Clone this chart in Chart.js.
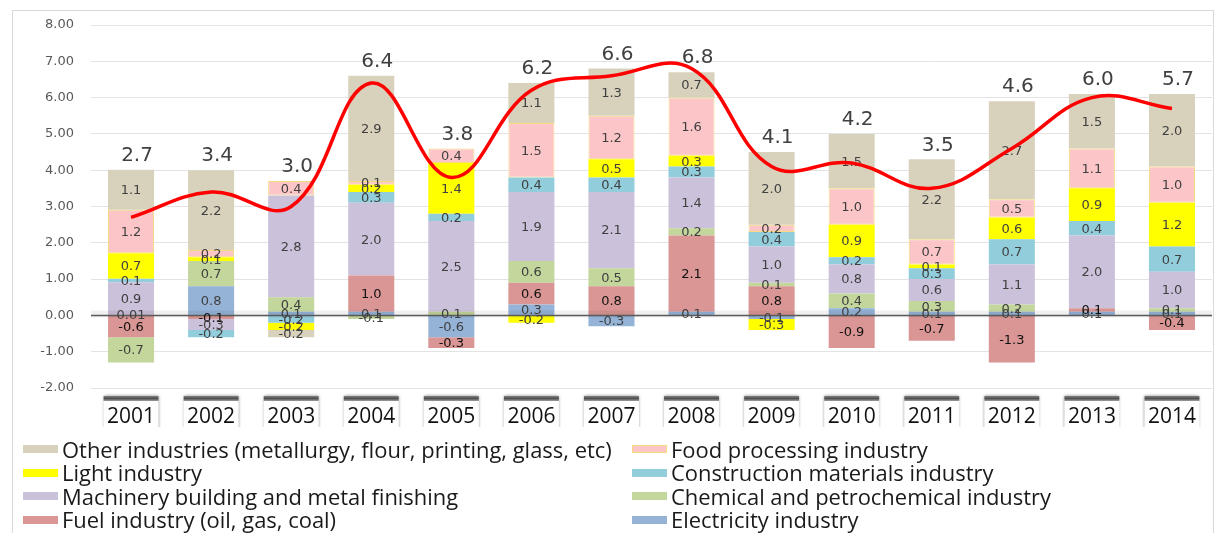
<!DOCTYPE html>
<html><head><meta charset="utf-8">
<script src="https://cdn.jsdelivr.net/npm/chart.js@4.4.1/dist/chart.umd.min.js"></script>
<style>
html,body{margin:0;padding:0;background:#fff;}
#wrap{position:relative;width:1215px;height:533px;overflow:hidden;background:#fff;}
#frame{position:absolute;left:12px;top:10px;width:1202px;height:540px;border:1px solid #d9d9d9;box-sizing:border-box;}
#cv{position:absolute;left:0;top:0;}
.lg{position:absolute;height:24px;display:flex;align-items:center;font-family:"Open Sans",sans-serif;color:#1a1a1a;white-space:nowrap;}
.sw{width:35px;height:8px;margin-right:4px;box-sizing:border-box;flex:none;}
</style></head>
<body><div id="wrap"><div id="frame"></div><canvas id="cv" width="1215" height="533"></canvas><div id="legend"></div></div>
<script>
// ---- data ----
const years = ['2001','2002','2003','2004','2005','2006','2007','2008','2009','2010','2011','2012','2013','2014'];
const totalGrowth = [2.7,3.4,3.0,6.4,3.8,6.2,6.6,6.8,4.1,4.2,3.5,4.6,6.0,5.7];
const electricity  = [0.01,0.8,0.1,0.1,-0.6,0.3,-0.3,0.1,-0.1,0.2,0.1,0.1,0.1,0.1];
const fuel         = [-0.6,-0.1,0,1.0,-0.3,0.6,0.8,2.1,0.8,-0.9,-0.7,-1.3,0.1,-0.4];
const chemical     = [-0.7,0.7,0.4,-0.1,0.1,0.6,0.5,0.2,0.1,0.4,0.3,0.2,0,0.1];
const machinery    = [0.9,-0.3,2.8,2.0,2.5,1.9,2.1,1.4,1.0,0.8,0.6,1.1,2.0,1.0];
const construction = [0.1,-0.2,-0.2,0.3,0.2,0.4,0.4,0.3,0.4,0.2,0.3,0.7,0.4,0.7];
const light        = [0.7,0.1,-0.2,0.2,1.4,-0.2,0.5,0.3,-0.3,0.9,0.1,0.6,0.9,1.2];
const food         = [1.2,0.2,0.4,0.1,0.4,1.5,1.2,1.6,0.2,1.0,0.7,0.5,1.1,1.0];
const other        = [1.1,2.2,-0.2,2.9,0,1.1,1.3,0.7,2.0,1.5,2.2,2.7,1.5,2.0];
const yTicks = [-2,-1,0,1,2,3,4,5,6,7,8];

// series (stacking order bottom -> top)
const series = [
  {label:'Electricity industry', data:electricity, color:'#95b3d7', border:'#95b3d7', text:'#404040'},
  {label:'Fuel industry (oil, gas, coal)', data:fuel, color:'#d99694', border:'#d99694', text:'#111111'},
  {label:'Chemical and petrochemical industry', data:chemical, color:'#c3d69b', border:'#c3d69b', text:'#404040'},
  {label:'Machinery building and metal finishing', data:machinery, color:'#ccc1da', border:'#ccc1da', text:'#404040'},
  {label:'Construction materials industry', data:construction, color:'#92cddc', border:'#92cddc', text:'#404040'},
  {label:'Light industry', data:light, color:'#ffff00', border:'#ffff00', text:'#404040'},
  {label:'Food processing industry', data:food, color:'#fcc6c8', border:'#f7dc7e', text:'#404040'},
  {label:'Other industries (metallurgy, flour, printing, glass, etc)', data:other, color:'#d8d2bd', border:'#d8d2bd', text:'#404040'}
];

function fmt(v){ return Math.abs(v) < 0.05 ? v.toFixed(2) : v.toFixed(1); }

const datasets = series.map(s => ({
  type:'bar', label:s.label, data:s.data, backgroundColor:s.color,
  borderColor:s.border, borderWidth: s.border===s.color?0:1, borderSkipped:false,
  stack:'ind', barPercentage:0.575, categoryPercentage:1.0, labelColor:s.text, order:1
}));
datasets.push({type:'line', label:'Total', data:totalGrowth, borderColor:'#ff0000', borderWidth:3.5,
  pointRadius:0, tension:0.4, fill:false, stack:'line', order:0});

const yearBoxes = {
  id:'yearBoxes',
  beforeDraw(chart){
    const {ctx, scales:{x}} = chart;
    ctx.save();
    ctx.beginPath(); ctx.rect(0,390,chart.width,37); ctx.clip();
    years.forEach((_,i)=>{
      const cx = x.getPixelForValue(i);
      const l = cx-27.5, w=55, t=396, h=36;
      ctx.shadowColor='rgba(0,0,0,0.5)'; ctx.shadowBlur=3;
      ctx.fillStyle='#fff'; ctx.fillRect(l,t,w,h);
      ctx.shadowBlur=0; ctx.shadowColor='rgba(0,0,0,0)';
      const g = ctx.createLinearGradient(0,t,0,t+5);
      g.addColorStop(0,'#808080'); g.addColorStop(0.5,'#505050'); g.addColorStop(1,'#a0a0a0');
      ctx.fillStyle=g; ctx.fillRect(l,t,w,5);
    });
    ctx.restore();
  }
};

const barLabels = {
  id:'barLabels',
  beforeDatasetDraw(chart,args){
    if(args.meta.type!=='line') return;
    const {ctx, chartArea, scales:{y}} = chart;
    const y0 = Math.round(y.getPixelForValue(0))+0.5;
    ctx.save();
    ctx.fillStyle='rgba(0,0,0,0.06)'; ctx.fillRect(chartArea.left,y0-5,chartArea.width,7);
    ctx.strokeStyle='#5a5a5a'; ctx.lineWidth=1.3;
    ctx.beginPath(); ctx.moveTo(chartArea.left,y0); ctx.lineTo(chartArea.right,y0); ctx.stroke();
    ctx.font='13px "DejaVu Sans"'; ctx.textAlign='center'; ctx.textBaseline='middle';
    chart.data.datasets.forEach((ds,di)=>{
      if(ds.type!=='bar') return;
      const meta = chart.getDatasetMeta(di);
      meta.data.forEach((bar,i)=>{
        const v = ds.data[i]; if(!v) return;
        const p = bar.getProps(['x','y','base'],true);
        ctx.fillStyle = ds.labelColor;
        ctx.fillText(fmt(v), p.x, (p.y+p.base)/2+1);
      });
    });
    ctx.restore();
  },
  afterDatasetsDraw(chart){
    const {ctx, scales:{x,y}} = chart;
    ctx.save();
    ctx.font='20px "DejaVu Sans"'; ctx.textAlign='center'; ctx.textBaseline='middle'; ctx.fillStyle='#404040';
    totalGrowth.forEach((t,i)=>{
      let pos = 0;
      series.forEach(s=>{ if(s.data[i]>0) pos += s.data[i]; });
      ctx.fillText(t.toFixed(1), x.getPixelForValue(i)+6, y.getPixelForValue(pos)-14);
    });
    ctx.restore();
  }
};

new Chart(document.getElementById('cv'), {
  data:{labels:years, datasets},
  options:{
    responsive:false, animation:false,
    layout:{padding:{left:0,right:3,top:25,bottom:100}},
    plugins:{legend:{display:false}, tooltip:{enabled:false}, title:{display:false}},
    scales:{
      x:{stacked:true, grid:{display:false, drawTicks:false}, border:{display:false},
         ticks:{color:'#111', font:{family:'"Open Sans"', size:21}, padding:16, maxRotation:0, autoSkip:false},
         afterFit(s){ s.height = 45; }},
      y:{stacked:true, min:-2, max:8, border:{display:false},
         grid:{color:(c)=> c.tick && c.tick.value===0 ? 'rgba(0,0,0,0)' : '#e3e3e3', drawTicks:false, lineWidth:1},
         afterBuildTicks(s){ s.ticks = yTicks.map(v=>({value:v})); },
         ticks:{color:'#595959', font:{family:'"DejaVu Sans"', size:13}, padding:17, callback:(v)=>Number(v).toFixed(2)},
         afterFit(s){ s.width = 91; }}
    }
  },
  plugins:[yearBoxes, barLabels]
});

// ---- HTML legend (two columns, Excel order) ----
const legendOrder = [7,6,5,4,3,2,1,0];
const rowsY = [449,472.5,496,519.5];
const colX = [23,632];
const mc = document.createElement('canvas').getContext('2d');
mc.font = '19px "Open Sans"';
const wLong = mc.measureText(series[7].label).width;
const fs = 19*550/wLong;
const lg = document.getElementById('legend');
legendOrder.forEach((si,k)=>{
  const s = series[si];
  const d = document.createElement('div');
  d.className='lg';
  d.style.left = colX[k%2]+'px';
  d.style.top = (rowsY[Math.floor(k/2)]-12)+'px';
  d.style.fontSize = fs+'px';
  const sw = document.createElement('span');
  sw.className='sw'; sw.style.background=s.color;
  if(s.border!==s.color) sw.style.border='1px solid '+s.border;
  const tx = document.createElement('span'); tx.textContent = s.label;
  d.appendChild(sw); d.appendChild(tx); lg.appendChild(d);
});
</script>
</body></html>
